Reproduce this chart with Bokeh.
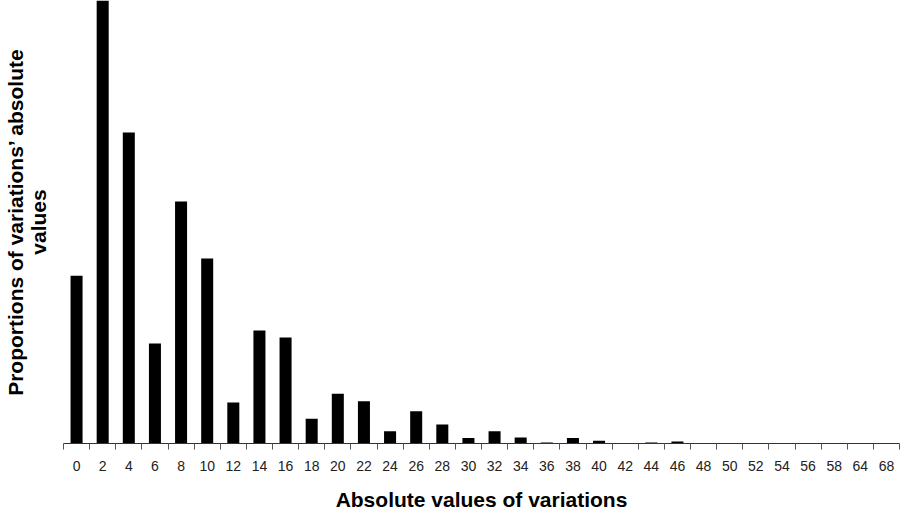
from bokeh.plotting import figure
from bokeh.models import Range1d, FixedTicker, LinearAxis, ColumnDataSource
from bokeh.embed import file_html
from bokeh.resources import INLINE

categories = [0, 2, 4, 6, 8, 10, 12, 14, 16, 18, 20, 22, 24, 26, 28, 30, 32, 34,
              36, 38, 40, 42, 44, 46, 48, 50, 52, 54, 56, 58, 64, 68]
proportions = [8.71, 23.0, 16.15, 5.19, 12.56, 9.6, 2.13, 5.87, 5.5, 1.28, 2.58,
               2.2, 0.64, 1.68, 0.99, 0.28, 0.64, 0.31, 0.05, 0.28, 0.14, 0.0,
               0.05, 0.1, 0.0, 0.0, 0.0, 0.0, 0.0, 0.0, 0.0, 0.0]
x_title = "Absolute values of variations"
y_title = "Proportions of variations\u2019 absolute\nvalues"

positions = list(range(len(categories)))
src = ColumnDataSource(dict(x=positions, top=proportions))

p = figure(width=902, height=517,
           x_range=Range1d(-0.5, len(categories) - 0.5),
           y_range=Range1d(0, max(proportions)),
           output_backend="svg", toolbar_location=None,
           x_axis_type=None, y_axis_type=None,
           min_border_left=61, min_border_right=3,
           min_border_top=0, min_border_bottom=74)
p.outline_line_color = None
p.background_fill_color = "white"

p.vbar(x="x", top="top", width=0.46, source=src,
       fill_color="black", line_color=None)

xaxis = LinearAxis(
    ticker=FixedTicker(ticks=positions,
                       minor_ticks=[i - 0.5 for i in range(len(categories) + 1)]),
    major_label_overrides={i: str(c) for i, c in zip(positions, categories)},
    major_tick_in=0, major_tick_out=0,
    minor_tick_in=0, minor_tick_out=6,
    minor_tick_line_color="#555555",
    axis_line_color="#333333",
    major_label_standoff=11,
    major_label_text_font="Liberation Sans",
    major_label_text_font_size="14px",
    major_label_text_color="#222222",
    axis_label=x_title,
    axis_label_standoff=14,
    axis_label_text_font="Liberation Sans",
    axis_label_text_font_style="bold",
    axis_label_text_font_size="21px",
    axis_label_text_color="black",
)
p.add_layout(xaxis, "below")

yaxis = LinearAxis(
    ticker=FixedTicker(ticks=[]),
    axis_line_color=None,
    major_tick_line_color=None,
    minor_tick_line_color=None,
    major_label_text_font_size="0px",
    axis_label=y_title,
    axis_label_standoff=14,
    axis_label_text_font="Liberation Sans",
    axis_label_text_font_style="bold",
    axis_label_text_font_size="21px",
    axis_label_text_line_height=1.0,
    axis_label_text_color="black",
)
p.add_layout(yaxis, "left")

open("out.html", "w").write(file_html(p, INLINE))
